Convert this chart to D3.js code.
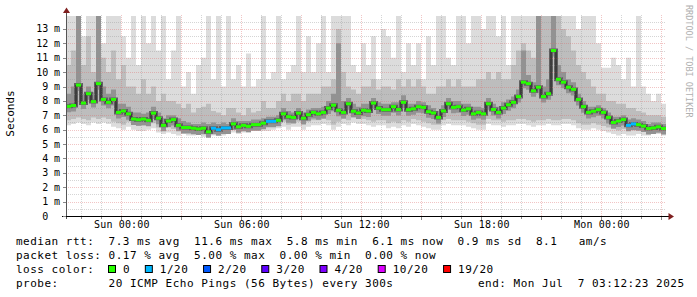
<!DOCTYPE html>
<html>
<head>
<meta charset="utf-8">
<script src="https://cdn.jsdelivr.net/npm/d3@7"></script>
<style>
body { margin: 0; background: #fff; }
svg { display: block; }
text { font-family: "DejaVu Sans Mono", monospace; white-space: pre; }
</style>
</head>
<body>
<script>
// 30 hour window, one value every 15 minutes
var startTime = new Date(2025, 6, 5, 21, 12, 23);
var endTime = new Date(2025, 6, 7, 3, 12, 23);
var stepMs = 15 * 60 * 1000;

// median rtt (ms)
var median = [7.62, 7.68, 9.1, 7.85, 8.5, 7.95, 9.2, 8.1, 7.9, 8.1,
  7.2, 7.3, 7.1, 6.74, 6.69, 6.74, 6.65, 7.15, 6.8, 6.3,
  6.6, 6.7, 6.3, 6.15, 6.15, 6.1, 6.05, 6.1, 5.85, 6.1,
  6.0, 6.12, 6.12, 6.4, 6.2, 6.3, 6.23, 6.35, 6.35, 6.45,
  6.58, 6.58, 6.65, 7.1, 6.9, 6.85, 7.15, 6.8, 7.04, 7.2,
  7.1, 7.2, 7.5, 7.7, 7.35, 7.2, 7.8, 7.28, 7.16, 7.35,
  7.3, 7.85, 7.5, 7.39, 7.39, 7.6, 7.4, 7.9, 7.39, 7.45,
  7.6, 7.55, 7.25, 7.16, 6.85, 7.3, 7.8, 7.55, 7.6, 7.36,
  7.45, 7.1, 7.2, 7.1, 7.8, 7.4, 7.2, 7.5, 7.73, 7.9,
  8.3, 9.3, 9.2, 8.7, 8.95, 8.3, 8.5, 11.5, 9.5, 9.3,
  8.95, 8.8, 8.1, 7.6, 7.2, 7.28, 7.39, 7.2, 6.85, 6.5,
  6.6, 6.7, 6.3, 6.4, 6.35, 6.25, 6.08, 6.12, 6.2, 6.08];

// lost pings per step (index into lossColors)
var loss = [0, 0, 0, 0, 0, 0, 0, 0, 0, 0,
  0, 0, 0, 0, 0, 0, 0, 0, 0, 0,
  0, 0, 0, 0, 0, 0, 0, 0, 0, 1,
  1, 1, 1, 0, 0, 0, 0, 0, 0, 0,
  1, 1, 0, 0, 0, 0, 0, 0, 0, 0,
  0, 0, 0, 0, 0, 0, 0, 0, 0, 0,
  0, 0, 0, 0, 0, 0, 0, 0, 0, 0,
  0, 0, 0, 0, 0, 0, 0, 0, 0, 0,
  0, 0, 0, 0, 0, 0, 0, 0, 0, 0,
  0, 0, 0, 0, 0, 0, 0, 0, 0, 0,
  0, 0, 0, 0, 0, 0, 0, 0, 0, 0,
  0, 0, 1, 1, 0, 0, 0, 0, 0, 0];

// smoke: top of lightest layer
var smokeMax = [13.9, 13.9, 13.9, 12.5, 13.9, 13.9, 13.9, 12.0, 13.9, 13.9,
  13.9, 12.5, 11.0, 13.9, 10.5, 13.9, 12.0, 13.9, 11.5, 13.9,
  9.5, 11.5, 13.9, 9.0, 10.0, 8.5, 10.5, 11.0, 13.9, 9.5,
  13.9, 9.0, 13.9, 9.5, 10.5, 9.0, 11.3, 9.0, 9.5, 13.9,
  9.5, 10.0, 13.9, 9.5, 10.0, 10.5, 13.9, 10.0, 12.5, 10.0,
  12.0, 13.9, 10.0, 13.9, 13.9, 13.9, 13.9, 10.5, 10.0, 12.0,
  10.5, 12.5, 9.5, 13.0, 12.5, 11.0, 13.9, 10.0, 12.0, 10.5,
  12.0, 9.5, 12.5, 10.5, 13.9, 13.9, 11.0, 10.5, 13.9, 13.9,
  12.0, 13.9, 13.9, 13.0, 13.9, 13.9, 12.5, 13.9, 10.5, 13.9,
  13.9, 13.9, 13.9, 13.9, 13.9, 13.9, 13.9, 13.9, 13.9, 13.9,
  13.9, 13.9, 13.0, 13.9, 13.9, 13.9, 12.0, 10.3, 10.3, 11.0,
  10.5, 9.5, 11.0, 9.0, 13.9, 9.0, 8.5, 8.0, 8.5, 7.8];

// smoke: top of middle layer
var smokeHi = [10.5, 11.5, 13.9, 10.5, 12.5, 10.0, 13.9, 11.0, 10.0, 11.5,
  9.5, 10.5, 9.0, 9.0, 8.5, 9.5, 8.5, 9.0, 8.0, 8.5,
  8.0, 8.0, 7.8, 7.5, 7.8, 7.2, 7.5, 7.6, 7.8, 7.3,
  7.2, 7.0, 7.5, 7.5, 7.2, 7.0, 7.5, 7.2, 7.3, 8.0,
  7.5, 7.5, 8.0, 8.5, 8.0, 8.5, 8.5, 8.0, 8.5, 8.5,
  8.5, 9.0, 9.0, 9.5, 13.0, 10.0, 9.0, 8.8, 8.5, 9.0,
  9.0, 9.5, 8.8, 9.0, 9.0, 8.8, 9.5, 9.0, 9.5, 9.0,
  9.5, 9.0, 8.5, 8.5, 9.0, 9.0, 9.5, 9.0, 9.5, 9.0,
  9.0, 9.0, 9.5, 9.5, 10.0, 9.5, 10.0, 9.5, 9.5, 10.5,
  11.5, 12.0, 11.5, 11.0, 12.5, 13.9, 13.9, 13.9, 13.9, 13.0,
  12.5, 11.5, 10.5, 10.0, 9.5, 9.0, 8.5, 8.5, 8.0, 8.0,
  7.8, 7.8, 7.5, 7.5, 7.3, 7.2, 7.0, 7.0, 7.0, 6.9];

// smoke: top of dark layer
var smokeDark = [8.5, 9.0, 13.9, 8.5, 9.0, 8.6, 13.9, 9.0, 8.5, 8.8,
  7.8, 7.8, 7.6, 7.2, 7.2, 7.1, 7.2, 7.6, 7.2, 6.8,
  7.0, 7.0, 6.8, 6.6, 6.5, 6.4, 6.4, 6.5, 6.4, 6.5,
  6.4, 6.5, 6.4, 6.8, 6.6, 6.6, 6.6, 6.7, 6.7, 6.8,
  6.9, 6.9, 7.0, 7.5, 7.3, 7.2, 7.5, 7.2, 7.4, 7.5,
  7.5, 7.6, 8.0, 8.5, 12.0, 8.0, 8.2, 7.8, 7.6, 7.8,
  7.8, 8.2, 7.9, 7.8, 7.8, 7.9, 7.9, 8.4, 7.8, 7.8,
  8.0, 7.9, 7.7, 7.5, 7.3, 7.7, 8.2, 8.0, 8.0, 7.8,
  7.8, 7.6, 7.6, 7.5, 8.2, 7.8, 7.6, 7.9, 8.1, 8.3,
  8.8, 11.5, 9.8, 9.3, 13.9, 9.0, 9.5, 13.9, 10.5, 10.0,
  9.5, 9.3, 8.5, 8.0, 7.6, 7.6, 7.7, 7.5, 7.2, 6.9,
  6.9, 7.0, 6.7, 6.8, 6.7, 6.6, 6.4, 6.5, 6.5, 6.4];

// smoke: bottom of lightest layer
var smokeMin = [6.3, 6.4, 6.5, 6.4, 6.3, 6.5, 6.4, 6.5, 6.4, 6.2,
  6.1, 6.0, 6.2, 6.0, 5.9, 5.9, 6.0, 6.1, 5.8, 5.7,
  5.8, 5.7, 5.6, 5.7, 5.6, 5.6, 5.7, 5.5, 5.6, 5.6,
  5.7, 5.6, 5.7, 5.8, 5.7, 5.8, 5.8, 5.9, 5.9, 5.9,
  5.9, 6.0, 6.1, 6.2, 6.0, 6.2, 6.2, 6.0, 6.2, 6.3,
  6.3, 6.4, 6.3, 6.0, 6.2, 6.4, 6.3, 6.5, 6.4, 6.4,
  6.3, 6.2, 6.3, 6.3, 6.1, 6.2, 6.1, 6.3, 6.2, 6.4,
  6.3, 6.2, 6.1, 6.0, 6.0, 6.3, 6.4, 6.3, 6.3, 6.3,
  6.2, 6.1, 6.0, 6.0, 6.4, 6.3, 6.3, 6.2, 6.3, 6.3,
  6.4, 6.4, 6.3, 6.2, 6.3, 6.3, 6.4, 6.3, 6.3, 6.4,
  6.4, 6.3, 6.1, 6.0, 6.0, 6.1, 6.0, 5.9, 5.8, 5.7,
  5.6, 5.7, 5.6, 5.6, 5.7, 5.6, 5.6, 5.7, 5.7, 5.6];

var lossLabels = ['0', '1/20', '2/20', '3/20', '4/20', '10/20', '19/20'];
var lossColors = ['#26ff00', '#00b8ff', '#0059ff', '#5e00ff', '#7e00ff', '#dd00ff', '#ff0000'];

var yTicks = [0, 1, 2, 3, 4, 5, 6, 7, 8, 9, 10, 11, 12, 13];
var xLabelTimes = [new Date(2025, 6, 6, 0), new Date(2025, 6, 6, 6), new Date(2025, 6, 6, 12),
  new Date(2025, 6, 6, 18), new Date(2025, 6, 7, 0)];

var statLines = [
  'median rtt:  7.3 ms avg  11.6 ms max  5.8 ms min  6.1 ms now  0.9 ms sd  8.1   am/s',
  'packet loss: 0.17 % avg  5.00 % max  0.00 % min  0.00 % now'
];
var probeText = 'probe:       20 ICMP Echo Pings (56 Bytes) every 300s';
var endText = 'end: Mon Jul  7 03:12:23 2025';

var svg = d3.select('body')
            .append('svg')
            .attr('width', 697)
            .attr('height', 297)
            .style('background', '#fff');

var x = d3.scaleTime().domain([startTime, endTime]).range([66, 666]);
var y = d3.scaleLinear().domain([0, 13.9]).range([216, 16]);
var px = function (v) { return Math.floor(v) + 0.5; };
var py = function (v) { return Math.round(v) + 0.5; };

// one record per step, plus a closing record for the step curves
var rows = median.map(function (m, i) {
  return { t: new Date(+startTime + i * stepMs), med: m, loss: loss[i],
           max: smokeMax[i], hi: smokeHi[i], dk: smokeDark[i], min: smokeMin[i] };
});
var stepRows = rows.concat([Object.assign({}, rows[rows.length - 1], { t: endTime })]);

svg.append('clipPath').attr('id', 'plot')
   .append('rect').attr('x', 66).attr('y', 15).attr('width', 600).attr('height', 201);

var smoke = svg.append('g').attr('clip-path', 'url(#plot)');

// smoke layers, light to dark
smoke.append('path').datum(stepRows)
     .attr('fill', '#dcdcdc')
     .attr('d', d3.area().curve(d3.curveStepAfter)
       .x(function (d) { return x(d.t); })
       .y0(function (d) { return y(d.min); })
       .y1(function (d) { return y(d.max); }));

smoke.append('path').datum(stepRows)
     .attr('fill', '#bdbdbd')
     .attr('d', d3.area().curve(d3.curveStepAfter)
       .x(function (d) { return x(d.t); })
       .y0(function (d) { return y(d.min) - 5; })
       .y1(function (d) { return y(d.hi); }));

smoke.append('path').datum(stepRows)
     .attr('fill', '#929292')
     .attr('d', d3.area().curve(d3.curveStepAfter)
       .x(function (d) { return x(d.t); })
       .y0(function (d) { return y(d.med) + 6; })
       .y1(function (d) { return y(d.dk); }));

smoke.append('path').datum(stepRows)
     .attr('fill', 'none')
     .attr('stroke', '#606060')
     .attr('stroke-width', 4)
     .attr('d', d3.line().curve(d3.curveStepAfter)
       .x(function (d) { return x(d.t); })
       .y(function (d) { return y(d.med); }));

// grid
var grid = svg.append('g').attr('shape-rendering', 'crispEdges');
var halfSteps = d3.range(1, 28).map(function (k) { return k / 2; });
grid.selectAll('.hg').data(halfSteps).enter().append('line')
    .attr('x1', 66).attr('x2', 666)
    .attr('y1', function (d) { return py(y(d)); })
    .attr('y2', function (d) { return py(y(d)); })
    .attr('stroke', function (d) { return d % 1 === 0 ? 'rgba(220,110,110,0.4)' : 'rgba(150,150,150,0.4)'; })
    .attr('stroke-dasharray', '1,1');

var hours = d3.timeHour.range(d3.timeHour.ceil(startTime), endTime);
grid.selectAll('.vg').data(hours).enter().append('line')
    .attr('x1', function (d) { return px(x(d)); })
    .attr('x2', function (d) { return px(x(d)); })
    .attr('y1', 15).attr('y2', 216)
    .attr('stroke', function (d) { return d.getHours() % 3 === 0 ? 'rgba(220,110,110,0.4)' : 'rgba(150,150,150,0.4)'; })
    .attr('stroke-dasharray', '1,1');

// median: dark joins, then loss-coloured steps
svg.append('path').datum(stepRows)
   .attr('fill', 'none')
   .attr('stroke', '#1a1a1a')
   .attr('stroke-width', 1)
   .attr('d', d3.line().curve(d3.curveStepAfter)
     .x(function (d) { return x(d.t); })
     .y(function (d) { return y(d.med); }));

svg.append('g').selectAll('rect').data(rows).enter().append('rect')
   .attr('x', function (d) { return x(d.t); })
   .attr('width', function (d) { return x(new Date(+d.t + stepMs)) - x(d.t); })
   .attr('y', function (d) { return y(d.med) - 1.5; })
   .attr('height', 3)
   .attr('fill', function (d) { return lossColors[d.loss]; });

// axes
var axes = svg.append('g').attr('shape-rendering', 'crispEdges');
axes.append('line').attr('x1', 66.5).attr('x2', 66.5).attr('y1', 12).attr('y2', 219).attr('stroke', '#555');
axes.append('line').attr('x1', 62).attr('x2', 669).attr('y1', 216.5).attr('y2', 216.5).attr('stroke', '#000');
axes.selectAll('.yt').data(yTicks).enter().append('line')
    .attr('x1', 63).attr('x2', 66)
    .attr('y1', function (d) { return py(y(d)); })
    .attr('y2', function (d) { return py(y(d)); })
    .attr('stroke', '#888');
axes.selectAll('.xt').data(hours).enter().append('line')
    .attr('x1', function (d) { return px(x(d)); })
    .attr('x2', function (d) { return px(x(d)); })
    .attr('y1', 217).attr('y2', function (d) { return d.getHours() % 3 === 0 ? 220 : 219; })
    .attr('stroke', '#888');

svg.append('path').attr('d', 'M66.5,7.5 L63,13 L70,13 Z').attr('fill', '#7f1f1f');
svg.append('path').attr('d', 'M674,216.5 L668.5,213 L668.5,220 Z').attr('fill', '#7f1f1f');

// tick labels
var tl = svg.append('g').style('font-size', '10px').style('letter-spacing', '0.15px').attr('fill', '#000');
tl.selectAll('.yl').data(yTicks).enter().append('text')
  .attr('x', 48.5).attr('y', function (d) { return y(d) + 3.5; })
  .attr('text-anchor', 'end')
  .text(function (d) { return d; });
tl.selectAll('.yu').data(yTicks.filter(function (d) { return d > 0; })).enter().append('text')
  .attr('x', 54).attr('y', function (d) { return y(d) + 3.5; })
  .text('m');
tl.selectAll('.xl').data(xLabelTimes).enter().append('text')
  .attr('x', function (d) { return x(d); }).attr('y', 228)
  .attr('text-anchor', 'middle')
  .text(d3.timeFormat('%a %H:%M'));

svg.append('text')
   .attr('transform', 'translate(14,113.5) rotate(-90)')
   .attr('text-anchor', 'middle')
   .style('font-size', '11px')
   .text('Seconds');

svg.append('text')
   .attr('transform', 'translate(685.5,5) rotate(90)')
   .style('font-size', '8.5px')
   .attr('fill', '#b0b0b0')
   .text('RRDTOOL / TOBI OETIKER');

// legend
var lg = svg.append('g').style('font-size', '11px').style('letter-spacing', '0.5px').attr('fill', '#000');
lg.selectAll('.st').data(statLines).enter().append('text')
  .attr('x', 16).attr('y', function (d, i) { return 245 + i * 14; })
  .text(function (d) { return d; });
lg.append('text').attr('x', 16).attr('y', 273).text('loss color:');
lg.append('text').attr('x', 16).attr('y', 287).text(probeText);
lg.append('text').attr('x', 478).attr('y', 287).text(endText);

var pos = 108.5;
lossLabels.forEach(function (lab, i) {
  lg.append('rect').attr('x', pos).attr('y', 265.5).attr('width', 7).attr('height', 7)
    .attr('fill', lossColors[i]).attr('stroke', '#000').attr('stroke-width', 1);
  lg.append('text').attr('x', pos + 14.5).attr('y', 273).text(lab);
  pos += 14.5 + lab.length * 7.13 + 15.2;
});
</script>
</body>
</html>
